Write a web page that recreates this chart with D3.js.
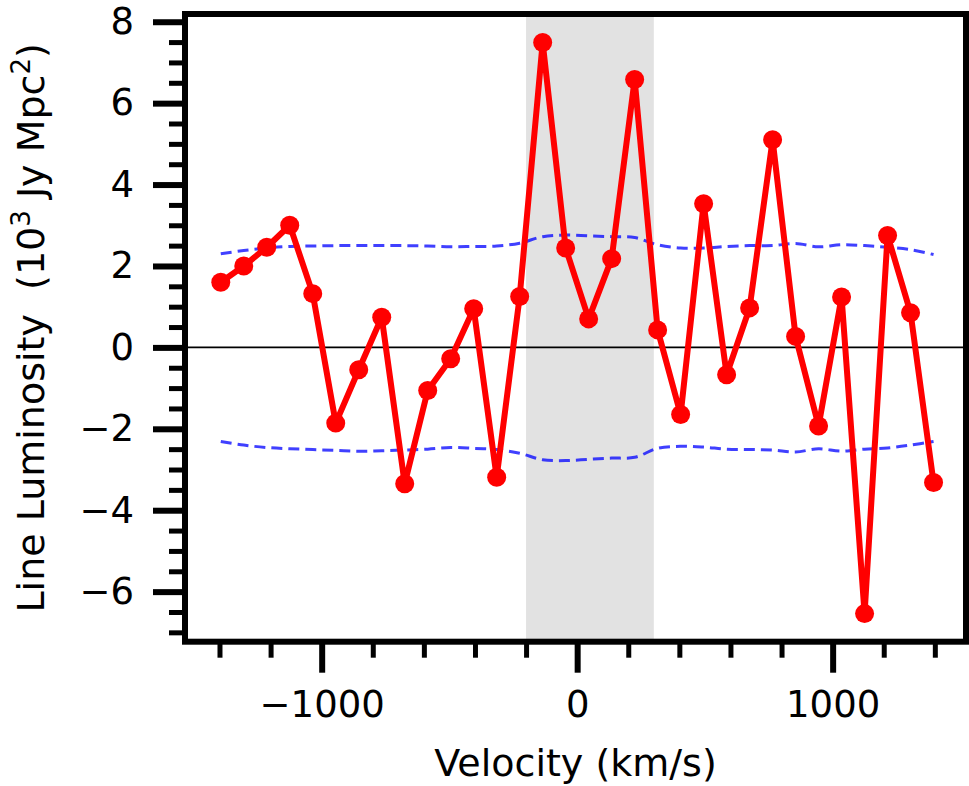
<!DOCTYPE html>
<html>
<head>
<meta charset="utf-8">
<script src="https://cdn.jsdelivr.net/npm/d3@7/dist/d3.min.js"></script>
<style>
  html, body { margin: 0; padding: 0; background: #fff; }
  svg { display: block; }
  text { font-family: "DejaVu Sans", sans-serif; fill: #000; }
</style>
</head>
<body>
<svg id="chart" width="969" height="786"></svg>
<script>
// Channel velocities (km/s), 90 km/s channels
const velocities = [
  -1395, -1305, -1215, -1125, -1035, -945, -855, -765,
  -675, -585, -495, -405, -315, -225, -135, -45,
  45, 135, 225, 315, 405, 495, 585, 675,
  765, 855, 945, 1035, 1125, 1215, 1305, 1395
];
// Stacked line luminosity (10^3 Jy Mpc^2)
const luminosity = [
  1.60, 2.00, 2.46, 3.00, 1.32, -1.86, -0.55, 0.74,
  -3.35, -1.06, -0.28, 0.95, -3.19, 1.25, 7.49, 2.44,
  0.70, 2.18, 6.58, 0.43, -1.65, 3.53, -0.67, 0.97,
  5.10, 0.27, -1.93, 1.24, -6.54, 2.75, 0.85, -3.32
];
// 1-sigma noise level per channel (drawn as +/- envelope)
const noiseUpper = [
  2.30, 2.38, 2.44, 2.48, 2.49, 2.50, 2.50, 2.50,
  2.50, 2.49, 2.47, 2.48, 2.49, 2.56, 2.72, 2.76,
  2.74, 2.72, 2.70, 2.52, 2.44, 2.44, 2.48, 2.50,
  2.50, 2.55, 2.47, 2.52, 2.50, 2.46, 2.40, 2.28
];
const noiseLower = [
  -2.31, -2.40, -2.46, -2.49, -2.51, -2.53, -2.55, -2.54,
  -2.52, -2.50, -2.46, -2.48, -2.51, -2.60, -2.76, -2.78,
  -2.75, -2.72, -2.70, -2.48, -2.43, -2.45, -2.50, -2.51,
  -2.52, -2.57, -2.49, -2.55, -2.50, -2.47, -2.40, -2.31
];
// Velocity window of the line (shaded)
const lineWindow = [-200, 300];

const xDomain = [-1535, 1522];
const yDomain = [-7.23, 8.19];
const xMajorTicks = [-1000, 0, 1000];
const xMinorTicks = [-1400, -1200, -800, -600, -400, -200, 200, 400, 600, 800, 1200, 1400];
const yMajorTicks = [-6, -4, -2, 0, 2, 4, 6, 8];
const yMinorTicks = [-7, -6.5, -5.5, -5, -4.5, -3.5, -3, -2.5, -1.5, -1, -0.5,
                     0.5, 1, 1.5, 2.5, 3, 3.5, 4.5, 5, 5.5, 6.5, 7, 7.5];

const svg = d3.select("#chart");
const plot = { left: 185, right: 966, top: 14, bottom: 641.7 };

const x = d3.scaleLinear().domain(xDomain).range([plot.left, plot.right]);
const y = d3.scaleLinear().domain(yDomain).range([plot.bottom, plot.top]);

// shaded velocity window
svg.append("rect")
  .attr("x", x(lineWindow[0]))
  .attr("y", plot.top)
  .attr("width", x(lineWindow[1]) - x(lineWindow[0]))
  .attr("height", plot.bottom - plot.top)
  .attr("fill", "#e2e2e2");

// zero line
svg.append("line")
  .attr("x1", plot.left).attr("x2", plot.right)
  .attr("y1", y(0)).attr("y2", y(0))
  .attr("stroke", "#000").attr("stroke-width", 1.6);

// noise envelope
const noiseLine = (arr) => d3.line()
  .x((d, i) => x(velocities[i]))
  .y(d => y(d))
  .curve(d3.curveCatmullRom)(arr);

[noiseUpper, noiseLower].forEach(arr => {
  svg.append("path")
    .attr("d", noiseLine(arr))
    .attr("fill", "none")
    .attr("stroke", "rgba(0,0,255,0.75)")
    .attr("stroke-width", 3)
    .attr("stroke-dasharray", "11,6");
});

// spectrum
const pts = velocities.map((v, i) => ({ v, l: luminosity[i] }));
svg.append("path")
  .datum(pts)
  .attr("d", d3.line().x(d => x(d.v)).y(d => y(d.l)))
  .attr("fill", "none")
  .attr("stroke", "#ff0000")
  .attr("stroke-width", 6)
  .attr("stroke-linejoin", "round");

svg.selectAll("circle.pt")
  .data(pts)
  .join("circle")
  .attr("class", "pt")
  .attr("cx", d => x(d.v))
  .attr("cy", d => y(d.l))
  .attr("r", 9.5)
  .attr("fill", "#ff0000");

// axes: outward ticks
const spineW = 6;
const xAxisMajor = d3.axisBottom(x).tickValues(xMajorTicks).tickSize(28 + spineW / 2).tickPadding(18)
  .tickFormat(d => d < 0 ? "\u2212" + Math.abs(d) : String(d));
const xAxisMinor = d3.axisBottom(x).tickValues(xMinorTicks).tickSize(13 + spineW / 2).tickFormat("");
const yAxisMajor = d3.axisLeft(y).tickValues(yMajorTicks).tickSize(29 + spineW / 2).tickPadding(19)
  .tickFormat(d => d < 0 ? "\u2212" + Math.abs(d) : String(d));
const yAxisMinor = d3.axisLeft(y).tickValues(yMinorTicks).tickSize(13 + spineW / 2).tickFormat("");

function styleAxis(g, w) {
  g.select(".domain").remove();
  g.selectAll(".tick line").attr("stroke", "#000").attr("stroke-width", w);
  g.selectAll(".tick text").attr("font-size", 37).attr("font-family", "DejaVu Sans").attr("fill", "#000");
}

svg.append("g").attr("transform", `translate(0,${plot.bottom})`).call(xAxisMinor).call(g => styleAxis(g, 5));
svg.append("g").attr("transform", `translate(0,${plot.bottom})`).call(xAxisMajor).call(g => styleAxis(g, 6));
svg.append("g").attr("transform", `translate(${plot.left},0)`).call(yAxisMinor).call(g => styleAxis(g, 5));
svg.append("g").attr("transform", `translate(${plot.left},0)`).call(yAxisMajor).call(g => styleAxis(g, 6));

// frame
svg.append("rect")
  .attr("x", plot.left).attr("y", plot.top)
  .attr("width", plot.right - plot.left).attr("height", plot.bottom - plot.top)
  .attr("fill", "none").attr("stroke", "#000").attr("stroke-width", spineW);

// axis titles
svg.append("text")
  .attr("x", (plot.left + plot.right) / 2)
  .attr("y", 776)
  .attr("text-anchor", "middle")
  .attr("font-size", 38)
  .text("Velocity (km/s)");

const yt = svg.append("text")
  .attr("transform", `translate(44,${(plot.top + plot.bottom) / 2}) rotate(-90)`)
  .attr("text-anchor", "middle")
  .attr("font-size", 38)
  .attr("xml:space", "preserve");
yt.append("tspan").text("Line Luminosity  (10");
yt.append("tspan").attr("font-size", 26).attr("dy", -14).text("3");
yt.append("tspan").attr("dy", 14).text(" Jy Mpc");
yt.append("tspan").attr("font-size", 26).attr("dy", -14).text("2");
yt.append("tspan").attr("dy", 14).text(")");
</script>
</body>
</html>
